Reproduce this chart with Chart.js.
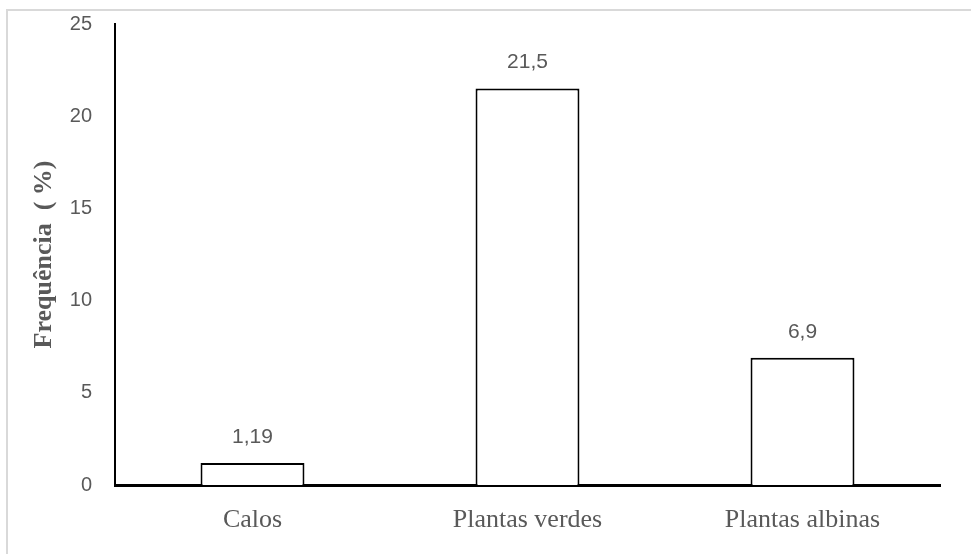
<!DOCTYPE html>
<html>
<head>
<meta charset="utf-8">
<script src="https://cdn.jsdelivr.net/npm/chart.js@4.4.1/dist/chart.umd.min.js"></script>
<style>
  html, body { margin: 0; padding: 0; background: #fff; overflow: hidden; }
  #wrap { width: 971px; height: 554px; position: relative; }
</style>
</head>
<body>
<div id="wrap"><canvas id="freq-chart"></canvas></div>
<script>
const categories = ['Calos', 'Plantas verdes', 'Plantas albinas']
const frequencia = [1.19, 21.5, 6.9]
const yTicks = [0, 5, 10, 15, 20, 25]

const textGray = '#595959'

// light frame of the original figure (only top and left edge visible)
const framePlugin = {
  id: 'frame',
  beforeDraw(chart) {
    const ctx = chart.ctx
    ctx.save()
    ctx.strokeStyle = '#d9d9d9'
    ctx.lineWidth = 2
    ctx.strokeRect(7, 10, 1100, 1000)
    ctx.restore()
  }
}

// value labels above bars, decimal comma
const valueLabels = {
  id: 'valueLabels',
  afterDatasetsDraw(chart) {
    const ctx = chart.ctx
    const meta = chart.getDatasetMeta(0)
    ctx.save()
    ctx.fillStyle = textGray
    ctx.font = '21px "Liberation Sans", Arial, sans-serif'
    ctx.textAlign = 'center'
    ctx.textBaseline = 'middle'
    meta.data.forEach((bar, i) => {
      const txt = String(frequencia[i]).replace('.', ',')
      ctx.fillText(txt, bar.x, bar.y - 26)
    })
    ctx.restore()
  }
}

const ctx = document.getElementById('freq-chart').getContext('2d')

new Chart(ctx, {
  type: 'bar',
  data: {
    labels: categories,
    datasets: [{
      data: frequencia,
      backgroundColor: '#ffffff',
      borderColor: '#000000',
      borderWidth: 2,
      borderSkipped: 'bottom',
      barPercentage: 0.378,
      categoryPercentage: 1
    }]
  },
  options: {
    responsive: true,
    maintainAspectRatio: false,
    animation: false,
    layout: {
      padding: { top: 24, right: 31, left: 0, bottom: 0 }
    },
    plugins: {
      legend: { display: false },
      tooltip: { enabled: false }
    },
    scales: {
      x: {
        grid: { display: false },
        border: { display: true, color: '#000000', width: 3 },
        ticks: {
          color: textGray,
          padding: 12,
          font: { family: '"Liberation Serif", "Times New Roman", serif', size: 26 }
        },
        afterFit: s => { s.height = 69 }
      },
      y: {
        min: 0,
        max: 25,
        afterBuildTicks: s => { s.ticks = yTicks.map(v => ({ value: v })) },
        grid: { display: false, drawTicks: false },
        border: { display: true, color: '#000000', width: 2 },
        ticks: {
          color: textGray,
          padding: 23,
          font: { family: '"Liberation Sans", Arial, sans-serif', size: 20 }
        },
        title: {
          display: true,
          text: 'Frequência  ( %)',
          color: textGray,
          padding: { top: 29, bottom: 0 },
          font: { family: '"Liberation Serif", "Times New Roman", serif', size: 26, weight: 'bold' }
        },
        afterFit: s => {
          s.width = 115
          s.paddingTop = 0
          s.paddingBottom = 0
        }
      }
    }
  },
  plugins: [framePlugin, valueLabels]
})
</script>
</body>
</html>
